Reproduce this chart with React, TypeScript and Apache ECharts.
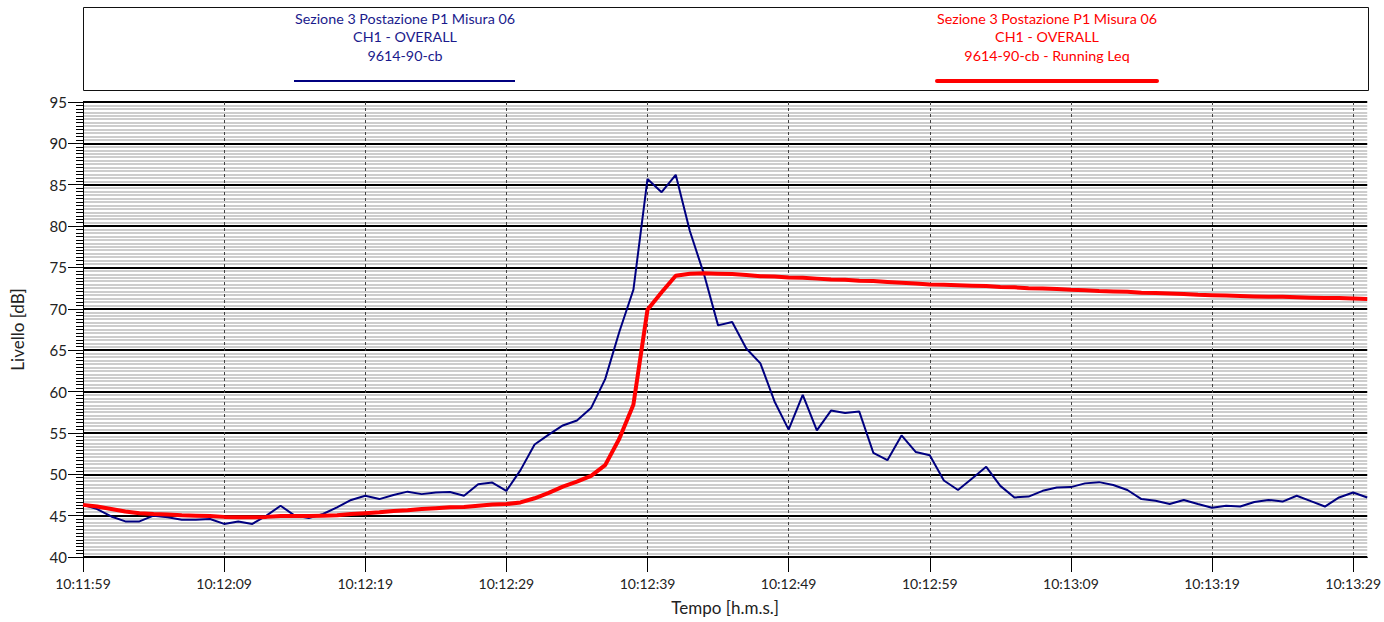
import React, { useEffect, useRef } from "react";
import * as echarts from "echarts";

// seconds elapsed since 10:11:59
const seconds: number[] = Array.from({ length: 92 }, (_, i) => i);

const overall: number[] = [
  46.3, 45.8, 44.9, 44.3, 44.3, 45.0, 44.8, 44.5, 44.5, 44.6,
  44.0, 44.3, 44.0, 45.0, 46.2, 45.0, 44.7, 45.2, 46.0, 46.9,
  47.4, 47.0, 47.5, 47.9, 47.6, 47.8, 47.85, 47.4, 48.8, 49.0,
  48.0, 50.5, 53.6, 54.8, 55.9, 56.5, 58.0, 61.5, 67.2, 72.3,
  85.7, 84.1, 86.2, 79.4, 74.2, 68.0, 68.4, 65.2, 63.4, 58.8,
  55.4, 59.6, 55.3, 57.7, 57.4, 57.6, 52.6, 51.7, 54.7, 52.7,
  52.3, 49.25, 48.1, 49.5, 50.9, 48.6, 47.2, 47.3, 48.0, 48.4,
  48.45, 48.9, 49.05, 48.7, 48.1, 47.0, 46.8, 46.4, 46.9, 46.4,
  45.95, 46.2, 46.1, 46.65, 46.9, 46.7, 47.4, 46.75, 46.1, 47.2,
  47.8, 47.2,
];

const runningLeq: number[] = [
  46.3, 46.1, 45.8, 45.5, 45.3, 45.2, 45.15, 45.05, 45.0, 44.95,
  44.85, 44.8, 44.8, 44.85, 44.95, 44.95, 44.95, 45.0, 45.05, 45.2,
  45.3, 45.4, 45.55, 45.65, 45.8, 45.9, 46.0, 46.05, 46.2, 46.35,
  46.4, 46.6, 47.1, 47.75, 48.5, 49.1, 49.8, 51.1, 54.3, 58.4,
  69.9, 72.0, 74.0, 74.25, 74.3, 74.25, 74.2, 74.1, 73.95, 73.9,
  73.8, 73.75, 73.65, 73.55, 73.5, 73.4, 73.35, 73.25, 73.15, 73.05,
  72.95, 72.9, 72.85, 72.8, 72.75, 72.65, 72.6, 72.5, 72.45, 72.4,
  72.3, 72.25, 72.15, 72.1, 72.05, 71.95, 71.9, 71.85, 71.8, 71.7,
  71.65, 71.6, 71.55, 71.5, 71.45, 71.45, 71.4, 71.35, 71.3, 71.3,
  71.25, 71.2,
];

const timeTickValues: number[] = [0, 10, 20, 30, 40, 50, 60, 70, 80, 90];
const timeTickLabels: string[] = [
  "10:11:59", "10:12:09", "10:12:19", "10:12:29", "10:12:39",
  "10:12:49", "10:12:59", "10:13:09", "10:13:19", "10:13:29",
];

const legendBlue: string[] = ["Sezione 3 Postazione P1 Misura 06", "CH1 - OVERALL", "9614-90-cb"];
const legendRed: string[] = ["Sezione 3 Postazione P1 Misura 06", "CH1 - OVERALL", "9614-90-cb - Running Leq"];

const FONT = "Lato, 'Open Sans', sans-serif";
const BLUE = "#000080";
const RED = "#ff0000";

export default function App() {
  const ref = useRef<HTMLDivElement>(null);

  useEffect(() => {
    if (!ref.current) return;
    const chart = echarts.init(ref.current, undefined, { renderer: "svg" });

    const legendTexts = (lines: string[], cx: number, color: string) =>
      lines.map((t, k) => ({
        type: "text",
        x: cx,
        y: 18 + k * 18.5,
        style: {
          text: t,
          fill: color,
          font: `14.3px ${FONT}`,
          textAlign: "center",
          textVerticalAlign: "middle",
        },
      }));

    chart.setOption({
      animation: false,
      backgroundColor: "#ffffff",
      textStyle: { fontFamily: FONT },
      grid: { left: 83, right: 15, top: 102, bottom: 65, containLabel: false },
      xAxis: {
        type: "value",
        min: 0,
        max: 91,
        interval: 10,
        name: "Tempo [h.m.s.]",
        nameLocation: "middle",
        nameGap: 42,
        nameTextStyle: { fontSize: 17, color: "#222", fontFamily: FONT },
        axisLine: { show: true, lineStyle: { color: "#000", width: 1 } },
        axisTick: {
          show: true,
          length: 15,
          customValues: timeTickValues,
          lineStyle: { color: "#000", width: 1 },
        },
        axisLabel: {
          customValues: timeTickValues,
          margin: 19,
          fontSize: 14,
          color: "#222",
          fontFamily: FONT,
          formatter: (v: number) => timeTickLabels[timeTickValues.indexOf(Math.round(v))] ?? "",
        },
        splitLine: {
          show: true,
          lineStyle: { color: "#444", width: 1, type: [3, 3] },
        },
      },
      yAxis: {
        type: "value",
        min: 40,
        max: 95,
        interval: 5,
        name: "Livello [dB]",
        nameLocation: "middle",
        nameGap: 57,
        nameTextStyle: { fontSize: 17, color: "#222", fontFamily: FONT },
        axisLine: { show: true, lineStyle: { color: "#000", width: 1 } },
        axisTick: { show: true, length: 15, lineStyle: { color: "#000", width: 1 } },
        minorTick: { show: true, splitNumber: 12, length: 7, lineStyle: { color: "#000", width: 1 } },
        axisLabel: { margin: 16, fontSize: 15, color: "#222", fontFamily: FONT },
        splitLine: { show: true, lineStyle: { color: "#000", width: 2 } },
        minorSplitLine: { show: true, lineStyle: { color: "#bdbdbd", width: 1.5 } },
      },
      series: [
        {
          name: legendBlue.join(" "),
          type: "line",
          data: seconds.map((s, i) => [s, overall[i]]),
          showSymbol: false,
          symbol: "none",
          lineStyle: { color: BLUE, width: 2 },
          itemStyle: { color: BLUE },
          z: 3,
        },
        {
          name: legendRed.join(" "),
          type: "line",
          data: seconds.map((s, i) => [s, runningLeq[i]]),
          showSymbol: false,
          symbol: "none",
          lineStyle: { color: RED, width: 4 },
          itemStyle: { color: RED },
          z: 4,
        },
      ],
      graphic: [
        {
          type: "rect",
          shape: { x: 83.5, y: 7.5, width: 1285, height: 83 },
          style: { fill: "#fff", stroke: "#111", lineWidth: 1 },
        },
        ...legendTexts(legendBlue, 405, "#1a1a8c"),
        ...legendTexts(legendRed, 1047, RED),
        {
          type: "line",
          shape: { x1: 294, y1: 81, x2: 515, y2: 81 },
          style: { stroke: BLUE, lineWidth: 2 },
        },
        {
          type: "line",
          shape: { x1: 937, y1: 81, x2: 1157, y2: 81 },
          style: { stroke: RED, lineWidth: 4, lineCap: "round" },
        },
      ],
    });

    return () => chart.dispose();
  }, []);

  return (
    <div
      ref={ref}
      style={{ position: "fixed", left: 0, top: 0, width: 1384, height: 622, background: "#fff" }}
    />
  );
}
